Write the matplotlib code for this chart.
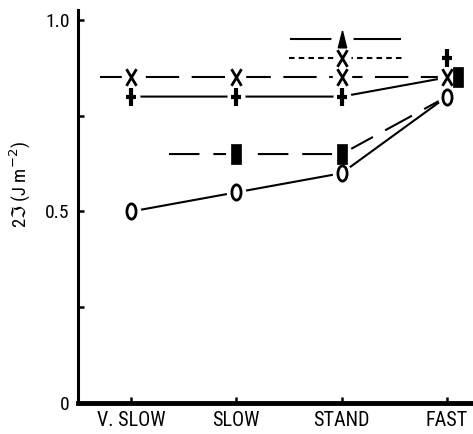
import numpy as np
import matplotlib
matplotlib.use('Agg')
import matplotlib.pyplot as plt
from matplotlib.path import Path
from matplotlib import font_manager

# pick a narrow sans face if one is installed
installed = {f.name for f in font_manager.fontManager.ttflist}
narrow = [n for n in ['Roboto Condensed', 'Liberation Sans Narrow', 'Archivo Narrow',
                      'PT Sans Narrow', 'Fira Sans Condensed', 'IBM Plex Sans Condensed',
                      'Encode Sans Condensed', 'Open Sans Condensed'] if n in installed]
plt.rcParams['font.family'] = narrow[:1] + ['DejaVu Sans']
plt.rcParams['lines.scale_dashes'] = False

# categories on the x axis
categories = ['V. SLOW', 'SLOW', 'STAND', 'FAST']
x_pos = [1, 2, 3, 4]

# open ovals (solid line)
oval_vals = [0.50, 0.55, 0.60, 0.80]
# plus signs (solid line), marker at FAST drawn above
plus_vals = [0.80, 0.80, 0.80, 0.85]
plus_marker_x = [1, 2, 3, 4]
plus_marker_vals = [0.80, 0.80, 0.80, 0.90]
# crosses (long dashes)
cross_x = [0.71, 1, 2, 3, 4]
cross_vals = [0.85, 0.85, 0.85, 0.85, 0.85]
# filled rectangles (long dashes)
rect_x = [1.36, 2, 3, 4]
rect_vals = [0.65, 0.65, 0.65, 0.80]
rect_marker_x = [2, 3, 4.1]
rect_marker_vals = [0.65, 0.65, 0.85]
# extra points at STAND with horizontal bars
tri_x = [2.52, 3.55]
tri_val = 0.95
cross2_x = [2.50, 3.60]
cross2_val = 0.90

# marker shapes
M, L = Path.MOVETO, Path.LINETO
cross_mark = Path([(-0.6, -1), (0.6, 1), (-0.6, 1), (0.6, -1)], [M, L, M, L])
plus_mark = Path([(0, -1), (0, 1), (-0.6, 0.05), (0.6, 0.05)], [M, L, M, L])
rect_mark = [(-0.55, -1), (0.55, -1), (0.55, 1), (-0.55, 1), (-0.55, -1)]
tri_mark = [(0, 1), (0.5, -1), (-0.5, -1), (0, 1)]
circ = Path.unit_circle()
oval_mark = Path(circ.vertices * np.array([0.6, 1.0]), circ.codes)

fig = plt.figure(figsize=(4.73, 4.34), dpi=100)
ax = fig.add_axes([0.165, 0.0714, 0.835, 0.9055])

lw = 1.5
k = 'black'

def halo(xs, ys, size=13):
    ax.plot(xs, ys, ls='none', marker='o', ms=size, mfc='white', mec='none', zorder=3)

# oval series
ax.plot(x_pos, oval_vals, color=k, lw=lw, zorder=2)
halo(x_pos, oval_vals, 14)
ax.plot(x_pos, oval_vals, ls='none', marker=oval_mark, ms=11, mfc='white', mec=k, mew=2, zorder=4)

# plus series
ax.plot(x_pos, plus_vals, color=k, lw=lw, zorder=2)
halo(plus_marker_x, plus_marker_vals, 13)
ax.plot(plus_marker_x, plus_marker_vals, ls='none', marker=plus_mark, ms=13, mec=k, mew=3, zorder=4)

# cross series
ax.plot(cross_x, cross_vals, color=k, lw=lw, dashes=(24, 9), zorder=2)
halo(cross_x[1:], cross_vals[1:], 14)
ax.plot(cross_x[1:], cross_vals[1:], ls='none', marker=cross_mark, ms=12, mec=k, mew=2, zorder=4)

# rectangle series
ax.plot(rect_x, rect_vals, color=k, lw=lw, dashes=(22, 10), zorder=2)
halo(rect_marker_x[:2], rect_marker_vals[:2], 15)
ax.plot(rect_marker_x, rect_marker_vals, ls='none', marker=rect_mark, ms=14, mfc=k, mec=k, mew=0.5, zorder=4)

# triangle with bar at STAND
ax.plot(tri_x, [tri_val, tri_val], color=k, lw=lw, zorder=2)
halo([3], [tri_val], 16)
ax.plot([3], [tri_val], ls='none', marker=tri_mark, ms=12, mfc=k, mec=k, zorder=4)

# upper cross with short-dashed bar at STAND
ax.plot(cross2_x, [cross2_val, cross2_val], color=k, lw=lw, dashes=(4, 3), zorder=2)
halo([3], [cross2_val], 13)
ax.plot([3], [cross2_val], ls='none', marker=cross_mark, ms=12, mec=k, mew=2, zorder=4)

ax.set_xlim(0.497, 4.247)
ax.set_ylim(0, 1.026)
ax.set_xticks(x_pos)
ax.set_xticklabels(categories)
ax.set_yticks([0, 0.25, 0.5, 0.75, 1.0])
ax.set_yticklabels(['0', '', '0.5', '', '1.0'])

for s in ['top', 'right']:
    ax.spines[s].set_visible(False)
ax.spines['left'].set_linewidth(2.2)
ax.spines['bottom'].set_linewidth(3.5)
ax.tick_params(axis='both', direction='in', length=4, width=1.8, colors=k)
ax.tick_params(axis='x', pad=6, labelsize=14.5)
ax.tick_params(axis='y', pad=6, labelsize=14)

ax.set_ylabel(r'2$\Im$ (J m$^{-2}$)', fontsize=13.5)
ax.yaxis.set_label_coords(-0.115, 0.555)

fig.savefig('out.png', dpi=100)
